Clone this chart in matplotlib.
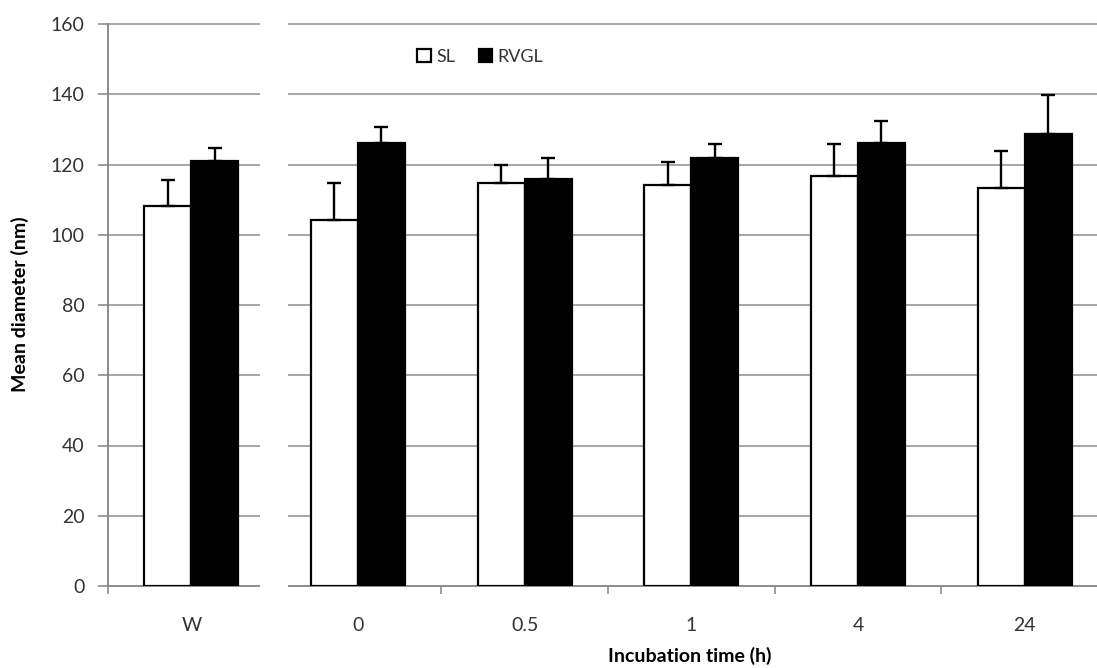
import numpy as np
import matplotlib.pyplot as plt

# Mean diameter of SL and RVGL vesicles over incubation time
groups = ["W", "0", "0.5", "1", "4", "24"]
sl_mean = [108.2, 104.2, 114.6, 114.1, 116.7, 113.2]
sl_err = [7.4, 10.4, 5.3, 6.6, 9.2, 10.7]
rvgl_mean = [120.9, 126.0, 115.8, 121.9, 126.0, 128.6]
rvgl_err = [3.9, 4.6, 6.0, 3.9, 6.5, 11.2]

plt.rcParams['font.family'] = ['Lato', 'DejaVu Sans']

W, H = 1097, 668
fig = plt.figure(figsize=(W / 100, H / 100), dpi=100)
# axes runs a little past the right edge of the figure
ax = fig.add_axes([108 / W, (H - 586) / H, 1000 / W, 562 / H])

x = np.arange(len(groups))
bw = 0.282
ekw = dict(ecolor="black", elinewidth=1.7, capsize=5, capthick=1.7)
ax.bar(x - bw / 2, sl_mean, bw, color="white", edgecolor="black", linewidth=1.6,
       yerr=[np.zeros(len(x)), sl_err], error_kw=ekw, label="SL", zorder=3)
ax.bar(x + bw / 2, rvgl_mean, bw, color="black", edgecolor="black", linewidth=1.6,
       yerr=[np.zeros(len(x)), rvgl_err], error_kw=ekw, label="RVGL", zorder=3)

ax.set_xlim(-0.5, 5.5)
ax.set_ylim(0, 160)

# gridlines and baseline with a break between W and the time series
gap_l, gap_r = 0.412, 0.578
yt = np.arange(0, 161, 20)
for y in yt:
    c = "#8c8c8c" if y == 0 else "#a6a6a6"
    ax.hlines(y, -0.5, gap_l, color=c, lw=1.4, zorder=1, clip_on=False)
    ax.hlines(y, gap_r, 5.6, color=c, lw=1.4, zorder=1, clip_on=False)

for s in ["top", "right", "bottom"]:
    ax.spines[s].set_visible(False)
ax.spines["left"].set_color("#8c8c8c")
ax.spines["left"].set_linewidth(1.4)

ax.set_yticks(yt)
ax.tick_params(axis="y", direction="out", length=7, width=1.2, color="#8c8c8c",
               labelsize=14, labelcolor="#333333", pad=10)
ax.set_xticks(x)
ax.set_xticklabels(groups)
ax.tick_params(axis="x", length=0, labelsize=14, labelcolor="#333333", pad=22)
ax.set_xticks([-0.5, 1.5, 2.5, 3.5, 4.5], minor=True)
ax.tick_params(axis="x", which="minor", direction="out", length=6, width=1.2, color="#8c8c8c")

fig.text(20 / W, 1 - 304 / H, "Mean diameter (nm)", fontsize=14, fontweight="bold",
         rotation=90, ha="center", va="center")
fig.text(690 / W, 1 - 656 / H, "Incubation time (h)", fontsize=14, fontweight="bold",
         ha="center", va="center")

ax.legend(loc="upper left", bbox_to_anchor=(293 / 1000, 0.985), ncol=2, frameon=False,
          fontsize=13, handlelength=0.75, handleheight=0.75, handletextpad=0.3,
          columnspacing=1.3, labelcolor="#333333")

fig.savefig("out.png", dpi=100)
